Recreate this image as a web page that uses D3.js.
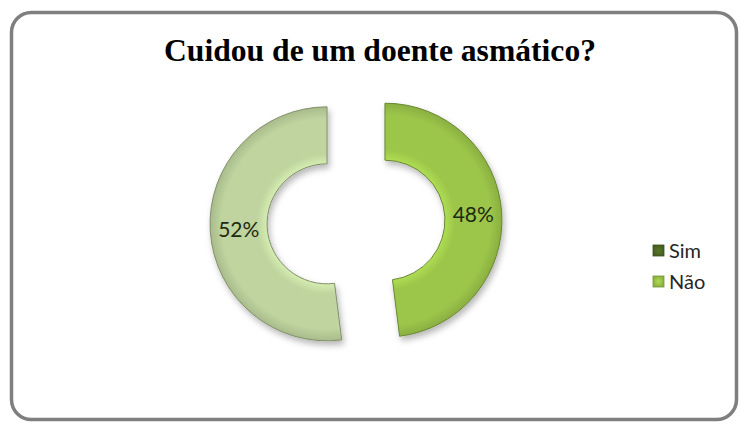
<!DOCTYPE html>
<html>
<head>
<meta charset="utf-8">
<script src="https://cdn.jsdelivr.net/npm/d3@7"></script>
<style>
  html, body { margin: 0; padding: 0; background: #ffffff; }
  svg { display: block; }
</style>
</head>
<body>
<svg id="chart" width="741" height="424"></svg>
<script>
// Survey answers and their shares (percent)
const titleText = "Cuidou de um doente asmático?";
const categories = ["Sim", "Não"];
const values = [52, 48];
const sliceColors = ["#bfd49f", "#9cc64a"];
const legendColors = ["#4f6a25", "#9cc64a"];

const W = 741, H = 424;
const svg = d3.select("#chart");

const defs = svg.append("defs");

// soft drop shadow beneath the ring pieces
const shadow = defs.append("filter").attr("id", "shadow")
  .attr("x", "-20%").attr("y", "-20%").attr("width", "140%").attr("height", "140%");
shadow.append("feDropShadow")
  .attr("dx", 2).attr("dy", 4).attr("stdDeviation", 3)
  .attr("flood-color", "#000").attr("flood-opacity", 0.28);

// bevel-like radial shading for each piece
sliceColors.forEach((c, i) => {
  const g = defs.append("radialGradient").attr("id", "grad" + i)
    .attr("gradientUnits", "userSpaceOnUse")
    .attr("cx", 0).attr("cy", 0).attr("r", 117);
  const col = d3.color(c);
  g.append("stop").attr("offset", "50%").attr("stop-color", col.brighter(0.35));
  g.append("stop").attr("offset", "60%").attr("stop-color", c);
  g.append("stop").attr("offset", "90%").attr("stop-color", c);
  g.append("stop").attr("offset", "100%").attr("stop-color", col.darker(0.35));
});

// legend swatch shading
legendColors.forEach((c, i) => {
  const g = defs.append("radialGradient").attr("id", "lgrad" + i);
  g.append("stop").attr("offset", "0%").attr("stop-color", d3.color(c).brighter(0.3));
  g.append("stop").attr("offset", "100%").attr("stop-color", d3.color(c).darker(0.3));
});

// chart frame
svg.append("rect")
  .attr("x", 11.5).attr("y", 12.5)
  .attr("width", 725).attr("height", 407)
  .attr("rx", 20).attr("ry", 20)
  .attr("fill", "#ffffff")
  .attr("stroke", "#7f7f7f").attr("stroke-width", 3.5);

// title
svg.append("text")
  .attr("x", 380).attr("y", 61)
  .attr("text-anchor", "middle")
  .attr("font-family", "'Liberation Serif', 'DejaVu Serif', serif")
  .attr("font-weight", "bold")
  .attr("font-size", 32)
  .attr("textLength", 432)
  .attr("lengthAdjust", "spacingAndGlyphs")
  .attr("fill", "#000")
  .text(titleText);

// ring geometry
const cx = 356, cy = 222;
const outerR = 117, innerR = 60, explode = 29;
const total = d3.sum(values);

const pie = d3.pie().sort(null)
  .startAngle(-values[0] / total * 2 * Math.PI)
  .endAngle(-values[0] / total * 2 * Math.PI + 2 * Math.PI);
const arcs = pie(values);
const arc = d3.arc().innerRadius(innerR).outerRadius(outerR);
const labelArc = d3.arc().innerRadius((innerR + outerR) / 2).outerRadius((innerR + outerR) / 2);

const pieces = svg.append("g").attr("transform", `translate(${cx},${cy})`)
  .selectAll("g.piece").data(arcs).join("g")
  .attr("class", "piece")
  .attr("transform", d => {
    const mid = (d.startAngle + d.endAngle) / 2;
    return `translate(${Math.sin(mid) * explode},${-Math.cos(mid) * explode})`;
  });

pieces.append("path")
  .attr("d", arc)
  .attr("fill", (d, i) => `url(#grad${i})`)
  .attr("stroke", (d, i) => d3.color(sliceColors[i]).darker(1.1))
  .attr("stroke-width", 1)
  .attr("filter", "url(#shadow)");

pieces.append("text")
  .attr("transform", d => `translate(${labelArc.centroid(d)})`)
  .attr("text-anchor", "middle")
  .attr("dy", "0.35em")
  .attr("font-family", "Lato, 'Open Sans', sans-serif")
  .attr("font-size", 21)
  .attr("fill", "#1e2a10")
  .text(d => d3.format(".0%")(d.value / total));

// legend
const legend = svg.append("g").attr("transform", "translate(653,245)");
const items = legend.selectAll("g").data(categories).join("g")
  .attr("transform", (d, i) => `translate(0,${i * 31})`);
items.append("rect")
  .attr("width", 11).attr("height", 11)
  .attr("fill", (d, i) => `url(#lgrad${i})`)
  .attr("stroke", (d, i) => d3.color(legendColors[i]).darker(0.8))
  .attr("stroke-width", 0.8);
items.append("text")
  .attr("x", 16).attr("y", 6)
  .attr("dy", "0.35em")
  .attr("font-family", "Lato, 'Open Sans', sans-serif")
  .attr("font-size", 20)
  .attr("fill", "#262626")
  .text(d => d);
</script>
</body>
</html>
